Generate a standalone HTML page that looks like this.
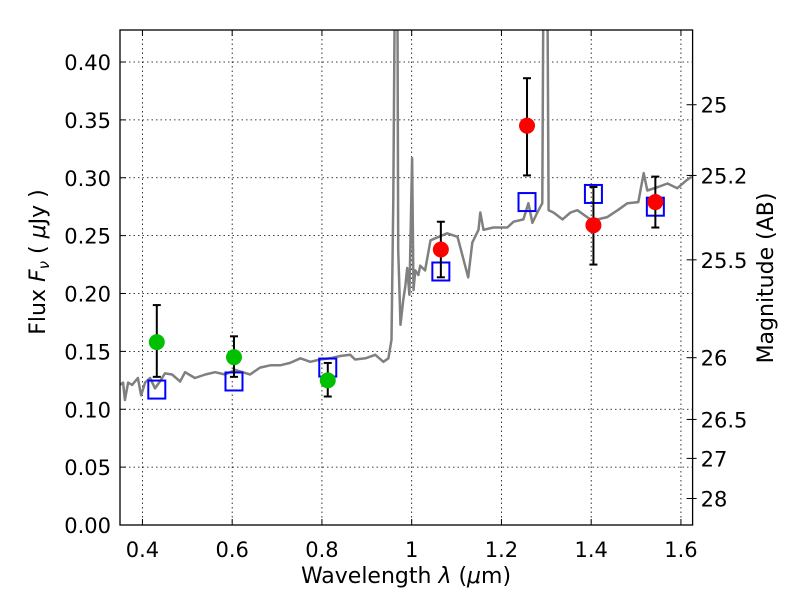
<!DOCTYPE html>
<html><head><meta charset="utf-8"><style>
body{margin:0;background:#fff;}
svg text{font-family:"DejaVu Sans","Liberation Sans",sans-serif;fill:#000;}
</style></head><body>
<svg id="chart" width="800" height="600" xmlns="http://www.w3.org/2000/svg"></svg>
<script>
const specX=[0.350,0.357,0.361,0.368,0.377,0.390,0.397,0.406,0.417,0.428,0.439,0.450,0.466,0.484,0.495,0.517,0.540,0.562,0.584,0.607,0.640,0.662,0.685,0.707,0.729,0.752,0.774,0.796,0.818,0.841,0.863,0.874,0.897,0.919,0.937,0.948,0.955,0.959,0.963,0.968,0.970,0.975,0.981,0.986,0.990,0.995,1.001,1.004,1.008,1.015,1.019,1.030,1.042,1.079,1.102,1.126,1.135,1.149,1.153,1.160,1.182,1.213,1.227,1.249,1.260,1.269,1.280,1.291,1.294,1.302,1.305,1.316,1.336,1.354,1.369,1.398,1.414,1.436,1.459,1.481,1.505,1.517,1.525,1.549,1.570,1.592,1.613,1.624];
const specY=[0.121,0.123,0.108,0.123,0.121,0.127,0.112,0.123,0.127,0.118,0.124,0.131,0.130,0.124,0.132,0.127,0.130,0.132,0.130,0.134,0.130,0.136,0.138,0.138,0.140,0.144,0.141,0.143,0.144,0.146,0.147,0.143,0.144,0.147,0.141,0.144,0.160,0.281,0.5,0.5,0.238,0.173,0.194,0.207,0.222,0.199,0.317,0.203,0.220,0.216,0.224,0.220,0.246,0.252,0.249,0.214,0.244,0.255,0.270,0.255,0.257,0.257,0.262,0.264,0.278,0.261,0.270,0.278,0.5,0.5,0.272,0.270,0.264,0.270,0.272,0.264,0.264,0.266,0.272,0.278,0.279,0.304,0.289,0.292,0.295,0.291,0.298,0.301];
const greenX=[0.432,0.604,0.813];
const greenY=[0.158,0.145,0.125];
const greenLo=[0.128,0.128,0.111];
const greenHi=[0.190,0.163,0.140];
const redX=[1.065,1.257,1.405,1.543];
const redY=[0.238,0.345,0.259,0.279];
const redLo=[0.214,0.302,0.225,0.257];
const redHi=[0.262,0.386,0.292,0.301];
const modelX=[0.432,0.604,0.813,1.065,1.257,1.405,1.543];
const modelY=[0.117,0.124,0.136,0.219,0.279,0.286,0.275];
const xTicks=[0.4,0.6,0.8,1.0,1.2,1.4,1.6];
const xTickLabels=["0.4","0.6","0.8","1","1.2","1.4","1.6"];
const yTicks=[0,0.05,0.10,0.15,0.20,0.25,0.30,0.35,0.40];
const yTickLabels=["0.00","0.05","0.10","0.15","0.20","0.25","0.30","0.35","0.40"];
const magTicks=[25,25.2,25.5,26,26.5,27,28];
const magLabels=["25","25.2","25.5","26","26.5","27","28"];

const L=120,R=692.6,T=30,B=525,X0=0.35,X1=1.626,YMAX=(B-T)/1157.5;
const sx=v=>L+(v-X0)/(X1-X0)*(R-L);
const sy=v=>B-v/YMAX*(B-T);
const NS="http://www.w3.org/2000/svg";
const svg=document.getElementById('chart');
function mk(tag,attrs,parent){const e=document.createElementNS(NS,tag);for(const k in attrs)e.setAttribute(k,attrs[k]);(parent||svg).appendChild(e);return e;}
const defs=mk('defs',{});const cp=mk('clipPath',{id:'clip'},defs);mk('rect',{x:L,y:T,width:R-L,height:B-T},cp);

const grid=mk('g',{stroke:'#000','stroke-width':0.8,'stroke-dasharray':'1.5,3'});


xTicks.forEach(v=>mk('line',{x1:sx(v),x2:sx(v),y1:T,y2:B},grid));
yTicks.forEach(v=>mk('line',{x1:L,x2:R,y1:sy(v),y2:sy(v)},grid));

const plot=mk('g',{'clip-path':'url(#clip)'});
let d='';specX.forEach((x,i)=>{d+=(i?'L':'M')+sx(x).toFixed(1)+','+sy(specY[i]).toFixed(1);});
const sp=mk('path',{d:d,fill:'none',stroke:'#808080','stroke-width':2.5,'stroke-linejoin':'round'},plot);



modelX.forEach((x,i)=>{const r=mk('rect',{x:sx(x)-8.5,y:sy(modelY[i])-9,width:17,height:18,fill:'none',stroke:'#0000ff','stroke-width':2});

});
function pts(xs,ys,lo,hi,col,name){xs.forEach((x,i)=>{
const g=mk('g',{stroke:'#000','stroke-width':2});


mk('line',{x1:sx(x),x2:sx(x),y1:sy(lo[i]),y2:sy(hi[i])},g);
mk('line',{x1:sx(x)-4,x2:sx(x)+4,y1:sy(lo[i]),y2:sy(lo[i])},g);
mk('line',{x1:sx(x)-4,x2:sx(x)+4,y1:sy(hi[i]),y2:sy(hi[i])},g);
const c=mk('circle',{cx:sx(x),cy:sy(ys[i]),r:8,fill:col});

});}
pts(greenX,greenY,greenLo,greenHi,'#00c000','optical');
pts(redX,redY,redLo,redHi,'#ff0000','nir');

const fr=mk('rect',{x:L,y:T,width:R-L,height:B-T,fill:'none',stroke:'#000','stroke-width':1.3});



const tk=mk('g',{stroke:'#000','stroke-width':1});
xTicks.forEach((v,i)=>{mk('line',{x1:sx(v),x2:sx(v),y1:B,y2:B-6},tk);mk('line',{x1:sx(v),x2:sx(v),y1:T,y2:T+6},tk);
const t=mk('text',{x:sx(v),y:B+32,'text-anchor':'middle','font-size':21});t.textContent=xTickLabels[i];

});
yTicks.forEach((v,i)=>{mk('line',{x1:L,x2:L+6,y1:sy(v),y2:sy(v)},tk);
const t=mk('text',{x:L-9,y:sy(v)+8,'text-anchor':'end','font-size':21});t.textContent=yTickLabels[i];

});
magTicks.forEach((m,i)=>{const f=Math.pow(10,(23.9-m)/2.5);const y=sy(f);
mk('line',{x1:R-6,x2:R+4,y1:y,y2:y},tk);
const t=mk('text',{x:R+8,y:y+8,'font-size':21});t.textContent=magLabels[i];

});

const xl=mk('text',{x:406,y:583,'text-anchor':'middle','font-size':22});
xl.innerHTML='Wavelength  <tspan font-style="italic">λ</tspan> (<tspan font-style="italic">μ</tspan>m)';


const yl=mk('text',{transform:'translate(45,262) rotate(-90)','text-anchor':'middle','font-size':22});
yl.innerHTML='Flux  <tspan font-style="italic">F</tspan><tspan font-style="italic" font-size="15" dy="4">ν</tspan><tspan dy="-4">  (  </tspan><tspan font-style="italic">μ</tspan>Jy )';


const yr=mk('text',{transform:'translate(773,278) rotate(-90)','text-anchor':'middle','font-size':22});
yr.textContent='Magnitude (AB)';


</script>
</body></html>
